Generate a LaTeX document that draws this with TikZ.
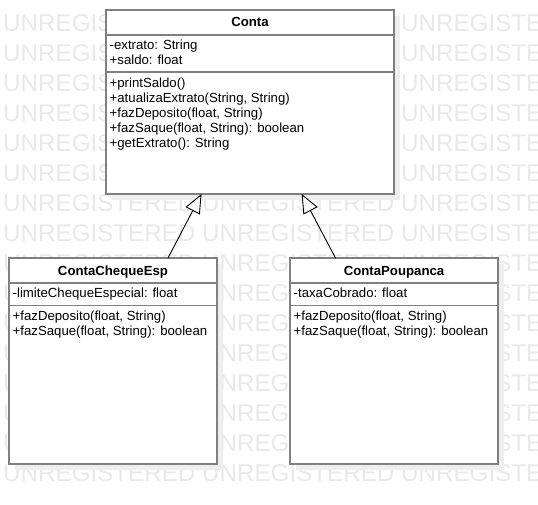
\documentclass[tikz,border=0pt]{standalone}
\usepackage{fontspec}
\setmainfont{Liberation Sans}
\usetikzlibrary{arrows.meta,calc}
\definecolor{boxgray}{RGB}{128,128,128}
\definecolor{shadowgray}{RGB}{238,238,238}
\definecolor{wmgray}{RGB}{233,233,233}
\begin{document}
\begin{tikzpicture}[x=1pt,y=-1pt,
  classbox/.style={draw=boxgray, line width=1.6pt, fill=white, rectangle, inner sep=0pt, outer sep=0pt, anchor=north west},
  shadowbox/.style={fill=shadowgray, draw=none, rectangle, inner sep=0pt, outer sep=0pt, anchor=north west},
  divline/.style={draw=boxgray, line width=1.6pt},
  member/.style={anchor=base west, inner sep=0pt, font=\fontsize{13.2}{15}\selectfont},
  classtitle/.style={anchor=base, inner sep=0pt, font=\fontsize{13.2}{15}\selectfont\bfseries},
  wm/.style={anchor=base west, inner sep=0pt, text=wmgray, font=\fontsize{24.2}{30}\selectfont},
  inh/.style={draw=black, line width=0.9pt, -{Triangle[open, length=19pt, width=16pt, fill=white]}}
]
\useasboundingbox (0,0) rectangle (538,505);
\fill[white] (0,0) rectangle (538,505);
% watermark
\begin{scope}
\clip (0,0) rectangle (538,505);
\foreach \k in {0,...,15} {
  \node[wm] (wm\k) at (3,{31.5+30*\k}) {UNREGISTERED UNREGISTERED UNREGISTERED};
}
\end{scope}
% shadows
\node[shadowbox, minimum width=288pt, minimum height=184pt] (contash) at (112,16) {};
\node[shadowbox, minimum width=208pt, minimum height=206pt] (chequesh) at (15,264) {};
\node[shadowbox, minimum width=208pt, minimum height=206pt] (poupsh) at (296,264) {};
% boxes
\node[classbox, minimum width=288pt, minimum height=184pt] (conta) at (106,10) {};
\node[classbox, minimum width=208pt, minimum height=206pt] (cheque) at (9,258) {};
\node[classbox, minimum width=208pt, minimum height=206pt] (poup) at (290,258) {};
% dividers
\draw[divline] ($(conta.north west)+(0,25)$) -- ($(conta.north east)+(0,25)$);
\draw[divline] ($(conta.north west)+(0,62)$) -- ($(conta.north east)+(0,62)$);
\draw[divline] ($(cheque.north west)+(0,24.7)$) -- ($(cheque.north east)+(0,24.7)$);
\draw[divline] ($(cheque.north west)+(0,47.5)$) -- ($(cheque.north east)+(0,47.5)$);
\draw[divline] ($(poup.north west)+(0,24.7)$) -- ($(poup.north east)+(0,24.7)$);
\draw[divline] ($(poup.north west)+(0,47.5)$) -- ($(poup.north east)+(0,47.5)$);
% Conta texts
\node[classtitle] (contat) at (250,27) {Conta};
\node[member] (conta1) at (109.5,50) {-extrato: String};
\node[member] (conta2) at (109.5,65) {+saldo: float};
\node[member] (conta3) at (109.5,87.5) {+printSaldo()};
\node[member] (conta4) at (109.5,102.5) {+atualizaExtrato(String, String)};
\node[member] (conta5) at (109.5,117.5) {+fazDeposito(float, String)};
\node[member] (conta6) at (109.5,132.5) {+fazSaque(float, String): boolean};
\node[member] (conta7) at (109.5,147.5) {+getExtrato(): String};
% ContaChequeEsp texts
\node[classtitle] (chequet) at (113,275.5) {ContaChequeEsp};
\node[member] (cheque1) at (12.5,297) {-limiteChequeEspecial: float};
\node[member] (cheque2) at (12.5,320.5) {+fazDeposito(float, String)};
\node[member] (cheque3) at (12.5,335.5) {+fazSaque(float, String): boolean};
% ContaPoupanca texts
\node[classtitle] (poupt) at (394,275.5) {ContaPoupanca};
\node[member] (poup1) at (293.5,297) {-taxaCobrado: float};
\node[member] (poup2) at (293.5,320.5) {+fazDeposito(float, String)};
\node[member] (poup3) at (293.5,335.5) {+fazSaque(float, String): boolean};
% generalizations
\draw[inh] ($(cheque.north west)+(159,0)$) -- ($(conta.south west)+(95.5,0)$);
\draw[inh] ($(poup.north west)+(45.5,0)$) -- ($(conta.south west)+(195.7,0)$);
\end{tikzpicture}
\end{document}
